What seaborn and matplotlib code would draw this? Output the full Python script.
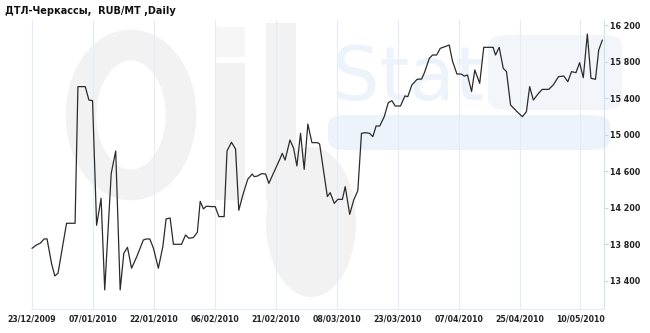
import matplotlib
matplotlib.use("Agg")
import matplotlib.pyplot as plt
import seaborn as sns
import pandas as pd
from matplotlib.patches import FancyBboxPatch, Ellipse, Rectangle

title = "ДТЛ-Черкассы,  RUB/MT ,Daily"

# x position (trading-step index, labels every 15 steps) and price in RUB/MT
step = [0, 1.1, 2.0, 3.0, 3.7, 4.8, 5.6, 6.4, 8.5, 10.1, 10.6, 11.3, 13.1, 14.0, 14.9,
        15.9, 17.0, 17.9, 19.5, 20.6, 21.7, 22.6, 23.5, 24.5, 25.8, 27.4, 28.1, 29.0, 29.9,
        31.1, 32.2, 33.0, 34.0, 34.8, 36.8, 37.8, 38.6, 39.7, 40.7, 41.4, 42.2, 42.9, 44.5,
        45.1, 46.0, 47.3, 48.0, 49.1, 50.1, 50.9, 51.9, 53.1, 54.2, 54.7, 55.5, 56.5, 57.5,
        58.3, 59.6, 61.1, 61.6, 62.3, 63.5, 64.4, 65.2, 66.1, 67.0, 67.9, 68.9, 70.3, 70.8,
        72.7, 73.4, 74.4, 75.3, 76.4, 77.1, 78.2, 79.2, 80.2, 81.1, 82.1, 83.1, 83.9, 84.7,
        85.6, 86.7, 87.7, 88.6, 89.4, 90.7, 91.8, 92.5, 93.5, 94.8, 95.9, 96.6, 97.8, 98.6,
        99.6, 100.5, 102.0, 102.7, 103.5, 104.6, 105.6, 106.4, 107.2, 108.2, 109.0, 110.2,
        111.2, 112.7, 113.5, 114.1, 115.0, 116.0, 116.8, 117.8, 119.4, 120.7, 121.7, 122.5,
        123.4, 124.7, 125.6, 127.2, 128.3, 129.6, 130.9, 131.9, 132.8, 133.9, 134.8, 135.7,
        136.7, 137.6, 138.7, 139.5, 140.4]
price = [13757, 13794, 13812, 13860, 13860, 13593, 13455, 13484, 14031, 14031, 14031,
         15526, 15526, 15380, 15372,
         14009, 14304, 13302, 14578, 14822, 13302, 13703, 13768, 13539, 13667, 13848, 13859,
         13859, 13757,
         13539, 13775, 14078, 14089, 13801, 13801, 13903, 13867, 13874, 13932, 14271, 14188,
         14217, 14213,
         14213, 14104, 14104, 14822, 14917, 14844, 14173, 14341, 14512, 14570, 14541, 14548,
         14574, 14570,
         14468, 14596, 14742, 14796, 14723, 14942, 14851, 14658, 15015, 14621, 15117, 14913,
         14913, 14898,
         14323, 14366, 14249, 14293, 14293, 14432, 14129, 14286, 14388, 15015, 15022, 15015,
         14979, 15095,
         15095, 15197, 15351, 15372, 15314, 15314, 15424, 15416, 15544, 15606, 15609, 15679,
         15835, 15872,
         15872, 15945, 15970, 15981, 15806, 15664, 15664, 15642, 15653, 15471, 15708, 15562,
         15956, 15956, 15956, 15872, 15956, 15726, 15690, 15325, 15252, 15197, 15252, 15526,
         15380, 15453, 15496, 15496, 15544, 15635, 15642, 15580, 15690, 15679, 15788, 15624,
         16102, 15617, 15606, 15927, 16036]

tick_steps = [0, 15, 30, 45, 60, 75, 90, 105, 120, 135]
tick_labels = ["23/12/2009", "07/01/2010", "22/01/2010", "06/02/2010", "21/02/2010",
               "08/03/2010", "23/03/2010", "07/04/2010", "25/04/2010", "10/05/2010"]
y_ticks = [13400, 13800, 14200, 14600, 15000, 15400, 15800, 16200]
y_labels = ["13 400", "13 800", "14 200", "14 600", "15 000", "15 400", "15 800", "16 200"]

df = pd.DataFrame({"step": step, "price": price})

sns.set_style("white")
plt.rcParams["font.family"] = ["DejaVu Sans"]

W, H = 650, 333
fig = plt.figure(figsize=(6.5, 3.33), dpi=100)
ax = fig.add_axes([31 / W, 1 - 309 / H, (604 - 31) / W, (309 - 20) / H])
ax.set_facecolor("none")
ax.set_zorder(1)


def fx(x):
    return x / W


def fy(y):
    return 1 - y / H


GRAY = "#f2f2f2"
BLUE = "#edf3fa"


def add(p):
    p.set_zorder(-1)
    fig.patches.append(p)


# watermark logo (background)
add(Ellipse((fx(131), fy(115)), 100 / W, 140 / H, transform=fig.transFigure,
            facecolor="none", edgecolor=GRAY, linewidth=22))
add(Rectangle((fx(216), fy(200)), 29 / W, 137 / H, transform=fig.transFigure,
              facecolor=GRAY, edgecolor="none"))
add(Rectangle((fx(216), fy(57)), 29 / W, 30 / H, transform=fig.transFigure,
              facecolor="#f6f6f6", edgecolor="none"))
add(Rectangle((fx(266), fy(200)), 30 / W, 177 / H, transform=fig.transFigure,
              facecolor=GRAY, edgecolor="none"))
add(Ellipse((fx(311), fy(222)), 90 / W, 150 / H, transform=fig.transFigure,
            facecolor=GRAY, edgecolor="none"))
add(FancyBboxPatch((fx(328), fy(150)), 282 / W, 35 / H,
                   boxstyle="round,pad=0.0,rounding_size=0.03",
                   transform=fig.transFigure, facecolor=BLUE, edgecolor="none"))
add(FancyBboxPatch((fx(488), fy(110)), 134 / W, 75 / H,
                   boxstyle="round,pad=0.0,rounding_size=0.03",
                   transform=fig.transFigure, facecolor="#f2f6fb", edgecolor="none"))
wm = fig.text(fx(332), fy(100), "Stat", fontsize=54, color=BLUE, ha="left",
              va="baseline")
wm.set_zorder(-1)

sns.lineplot(data=df, x="step", y="price", ax=ax, color="#2b2b2b", linewidth=0.9,
             sort=False, estimator=None, zorder=3)

ax.set_xlim(-0.25, 140.8)
ax.set_ylim(13093, 16255)
ax.set_xticks(tick_steps)
ax.set_xticklabels(tick_labels)
ax.set_yticks(y_ticks)
ax.set_yticklabels(y_labels)
ax.yaxis.tick_right()
ax.set_xlabel("")
ax.set_ylabel("")

ax.grid(axis="x", color="#e4ecf6", linewidth=0.8)
ax.grid(axis="y", visible=False)
for s in ["top", "left"]:
    ax.spines[s].set_visible(False)
ax.spines["right"].set_color("#d3dfec")
ax.spines["bottom"].set_color("#e4ecf6")
ax.spines["right"].set_linewidth(0.8)
ax.spines["bottom"].set_linewidth(0.8)

ax.tick_params(axis="x", length=2, color="#e4ecf6", pad=2, labelsize=5.6, labelcolor="#222222")
ax.tick_params(axis="y", length=3, color="#c8d6e6", pad=1, labelsize=5.8, labelcolor="#222222")
for lab in ax.get_xticklabels() + ax.get_yticklabels():
    lab.set_fontweight("bold")

fig.text(5 / W, 1 - 11 / H, title, fontsize=7, fontweight="bold", color="#111111",
         ha="left", va="center")

fig.savefig("out.png", dpi=100)
